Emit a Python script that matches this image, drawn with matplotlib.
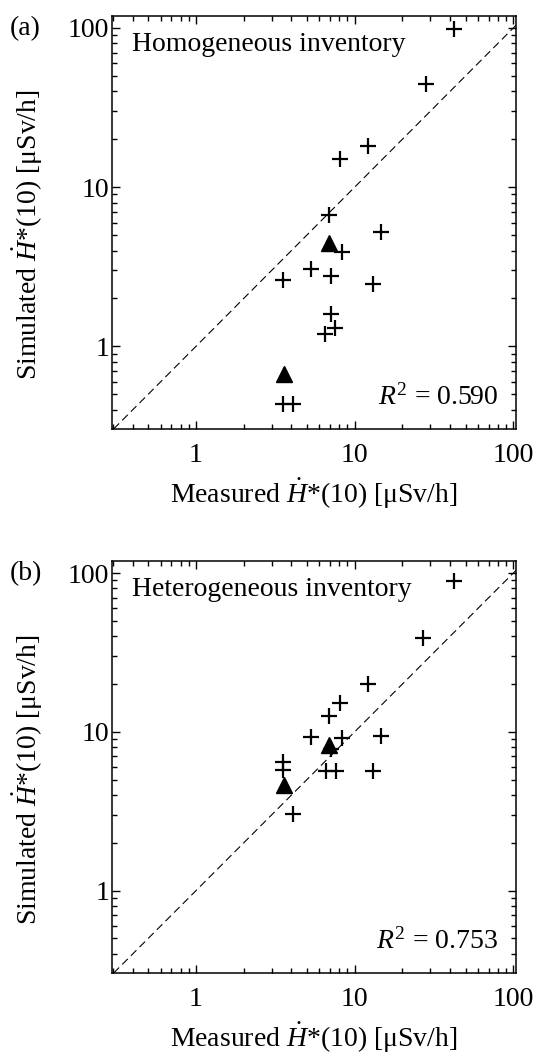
import numpy as np
import matplotlib
matplotlib.use("Agg")
import matplotlib.pyplot as plt
from matplotlib.ticker import LogLocator, NullFormatter, FixedFormatter, FixedLocator

plt.rcParams["font.family"] = ["Liberation Serif", "DejaVu Serif"]
plt.rcParams["mathtext.fontset"] = "custom"
plt.rcParams["mathtext.rm"] = "Liberation Serif"
plt.rcParams["mathtext.it"] = "Liberation Serif:italic"

# (a) homogeneous inventory
meas_a = [42, 28, 12.2, 8.1, 6.9, 14.7, 8.3, 5.3, 7.1, 3.55, 13.1, 7.1, 7.5, 6.5, 3.55, 4.07]
sim_a = [98.6, 44.3, 18.2, 15.0, 6.7, 5.25, 3.92, 3.08, 2.75, 2.60, 2.45, 1.6, 1.30, 1.2, 0.436, 0.436]
tri_meas_a = [6.9, 3.6]
tri_sim_a = [4.43, 0.675]

# (b) heterogeneous inventory
meas_b = [42, 27, 12.2, 8.1, 6.9, 5.3, 8.3, 14.7, 3.55, 3.55, 6.6, 7.6, 13.1, 4.07, 7.1]
sim_b = [89.5, 38.8, 19.9, 15.3, 12.6, 9.3, 9.2, 9.4, 6.46, 5.73, 5.67, 5.67, 5.67, 3.02, 7.85]
tri_meas_b = [6.9, 3.6]
tri_sim_b = [8.24, 4.6]

r2_a = 0.590
r2_b = 0.753

xlim = (0.296, 104)
ylim = (0.303, 119)
FS = 20

fig = plt.figure(figsize=(5.43, 10.55), dpi=100)
ax_a = fig.add_axes([0.2063, 0.5934, 0.744, 0.3915])
ax_b = fig.add_axes([0.2063, 0.0777, 0.744, 0.3905])

panels = [
    (ax_a, meas_a, sim_a, tri_meas_a, tri_sim_a, r2_a, "Homogeneous inventory"),
    (ax_b, meas_b, sim_b, tri_meas_b, tri_sim_b, r2_b, "Heterogeneous inventory"),
]

for ax, mx, sy, tx, ty, r2, title in panels:
    ax.set_xscale("log")
    ax.set_yscale("log")
    ax.set_xlim(*xlim)
    ax.set_ylim(*ylim)
    # 1:1 line
    ax.axline((1, 1), (10, 10), color="black", lw=0.8, ls=(0, (7, 4)))
    ax.plot(mx, sy, ls="none", marker="+", ms=12, mew=1.6, color="black")
    ax.plot(tx, ty, ls="none", marker="^", ms=11, color="black")

    for a in (ax.xaxis, ax.yaxis):
        a.set_major_locator(FixedLocator([1, 10, 100]))
        a.set_major_formatter(FixedFormatter(["1", "10", "100"]))
        a.set_minor_locator(LogLocator(base=10, subs=np.arange(2, 10)))
        a.set_minor_formatter(NullFormatter())
    ax.tick_params(which="both", direction="in", top=True, right=True, width=1.0)
    ax.tick_params(which="major", length=6)
    ax.tick_params(which="minor", length=3.5)
    ax.tick_params(axis="x", which="major", labelsize=FS, pad=10)
    ax.tick_params(axis="y", which="major", labelsize=FS, pad=2)
    for s in ax.spines.values():
        s.set_linewidth(1.1)

    ax.text(0.05, 0.93, title, transform=ax.transAxes, fontsize=FS, va="center", ha="left")
    ax.text(0.955, 0.045, r"$R^2$ = %.3f" % r2, transform=ax.transAxes,
            fontsize=FS, va="bottom", ha="right")
    ax.set_xlabel(r"Measured $\dot{H}$*(10) [μSv/h]", fontsize=FS, labelpad=6)
    ax.set_ylabel(r"Simulated $\dot{H}$*(10) [μSv/h]", fontsize=FS)
    ax.yaxis.set_label_coords(-0.165, 0.47)

fig.text(0.018, 0.985, "(a)", fontsize=FS, va="top", ha="left")
fig.text(0.018, 0.4684, "(b)", fontsize=FS, va="top", ha="left")

fig.savefig("out.png", dpi=100)
